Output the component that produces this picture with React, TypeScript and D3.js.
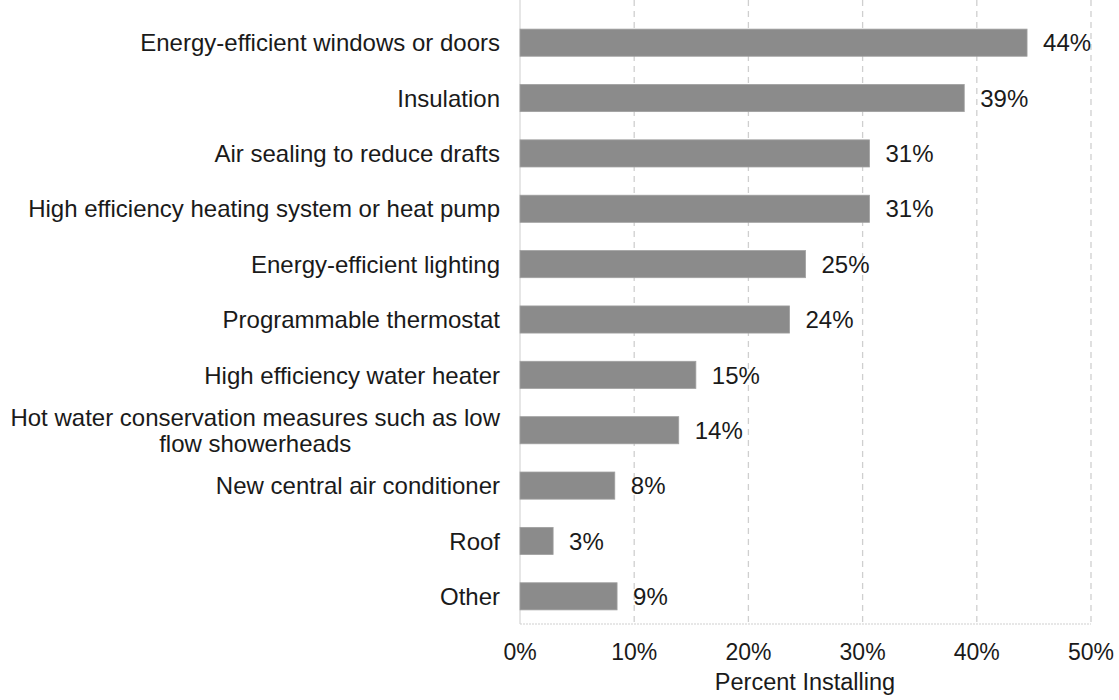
import React from "react";
import * as d3 from "d3";

const categories: string[][] = [
  ["Energy-efficient windows or doors"],
  ["Insulation"],
  ["Air sealing to reduce drafts"],
  ["High efficiency heating system or heat pump"],
  ["Energy-efficient lighting"],
  ["Programmable thermostat"],
  ["High efficiency water heater"],
  ["Hot water conservation measures such as low", "flow showerheads"],
  ["New central air conditioner"],
  ["Roof"],
  ["Other"],
];
const values: number[] = [44.4, 38.9, 30.6, 30.6, 25.0, 23.6, 15.4, 13.9, 8.3, 2.9, 8.5];
const valueLabels: string[] = ["44%", "39%", "31%", "31%", "25%", "24%", "15%", "14%", "8%", "3%", "9%"];
const xTicks: number[] = [0, 10, 20, 30, 40, 50];
const xTitle = "Percent Installing";

const W = 1119;
const H = 700;
const margin = { left: 520, right: 28, top: 15, bottom: 76 };
const FONT = "'Liberation Sans', Arial, sans-serif";
const FS_CAT = 24;
const FS_VAL = 24;
const FS_TICK = 23;
const FS_TITLE = 23.5;
const TXT = "#1a1a1a";

function measure(text: string, fs: number): number {
  const c = document.createElement("canvas");
  const ctx = c.getContext("2d");
  if (!ctx) return text.length * fs * 0.5;
  ctx.font = `${fs}px ${FONT}`;
  return ctx.measureText(text).width;
}

export default function App() {
  const x = d3.scaleLinear().domain([0, 50]).range([margin.left, W - margin.right]);
  const keys = categories.map((_, i) => String(i));
  const y = d3
    .scaleBand<string>()
    .domain(keys)
    .range([margin.top, H - margin.bottom])
    .paddingInner(0.51)
    .paddingOuter(0.255);
  const bottom = H - margin.bottom;
  const bw = y.bandwidth();

  return (
    <svg width={W} height={H} style={{ position: "absolute", left: 0, top: 0, background: "#fff" }}>
      {xTicks.slice(1).map((t) => (
        <line
          key={"g" + t}
          x1={x(t)}
          x2={x(t)}
          y1={0}
          y2={bottom}
          stroke="#cfcfcf"
          strokeWidth={1.3}
          strokeDasharray="6,5"
        />
      ))}
      <line x1={x(0)} x2={x(0)} y1={0} y2={bottom} stroke="#d6d6d6" strokeWidth={1.2} />
      <line x1={x(0)} x2={x(50)} y1={bottom} y2={bottom} stroke="#d0d0d0" strokeWidth={1.2} strokeDasharray="2,1" />
      {values.map((v, i) => {
        const yy = y(String(i)) as number;
        return (
          <g key={"b" + i}>
            <rect x={x(0)} y={yy} width={x(v) - x(0)} height={bw} fill="#8b8b8b" stroke="#a0a0a0" strokeWidth={0.8} />
            <text x={x(v) + 16} y={yy + bw / 2} dy="0.36em" fontFamily={FONT} fontSize={FS_VAL} fill={TXT}>
              {valueLabels[i]}
            </text>
          </g>
        );
      })}
      {categories.map((lines, i) => {
        const cy = (y(String(i)) as number) + bw / 2;
        const lh = 26.5;
        if (lines.length === 1) {
          return (
            <text key={"c" + i} x={500} y={cy} dy="0.36em" textAnchor="end" fontFamily={FONT} fontSize={FS_CAT} fill={TXT}>
              {lines[0]}
            </text>
          );
        }
        const maxW = Math.max(...lines.map((l) => measure(l, FS_CAT)));
        const cx = 500 - maxW / 2;
        return (
          <text key={"c" + i} fontFamily={FONT} fontSize={FS_CAT} fill={TXT} textAnchor="middle">
            {lines.map((l, j) => (
              <tspan key={j} x={cx} y={cy + (j - (lines.length - 1) / 2) * lh} dy="0.36em">
                {l}
              </tspan>
            ))}
          </text>
        );
      })}
      {xTicks.map((t) => (
        <text key={"t" + t} x={x(t)} y={660} textAnchor="middle" fontFamily={FONT} fontSize={FS_TICK} fill={TXT}>
          {t + "%"}
        </text>
      ))}
      <text x={805} y={690} textAnchor="middle" fontFamily={FONT} fontSize={FS_TITLE} fill={TXT}>
        {xTitle}
      </text>
    </svg>
  );
}
